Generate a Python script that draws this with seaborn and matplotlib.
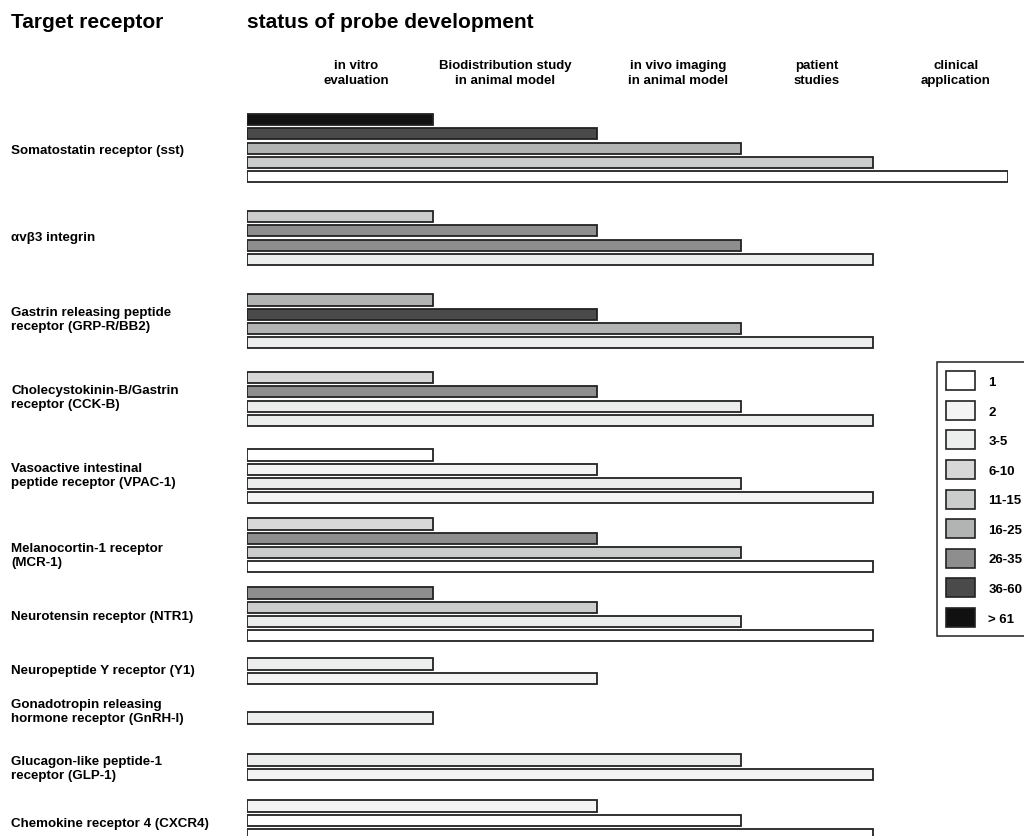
import numpy as np
import pandas as pd
import matplotlib
matplotlib.use("Agg")
import matplotlib.pyplot as plt
from matplotlib.patches import Patch
import seaborn as sns

# ---- data -------------------------------------------------------------
receptor_labels = [
    "Somatostatin receptor (sst)",
    "αvβ3 integrin",
    "Gastrin releasing peptide\nreceptor (GRP-R/BB2)",
    "Cholecystokinin-B/Gastrin\nreceptor (CCK-B)",
    "Vasoactive intestinal\npeptide receptor (VPAC-1)",
    "Melanocortin-1 receptor\n(MCR-1)",
    "Neurotensin receptor (NTR1)",
    "Neuropeptide Y receptor (Y1)",
    "Gonadotropin releasing\nhormone receptor (GnRH-I)",
    "Glucagon-like peptide-1\nreceptor (GLP-1)",
    "Chemokine receptor 4 (CXCR4)",
]

stage_labels = [
    "in vitro\nevaluation",
    "Biodistribution study\nin animal model",
    "in vivo imaging\nin animal model",
    "patient\nstudies",
    "clinical\napplication",
]

count_classes = ["1", "2", "3-5", "6-10", "11-15", "16-25", "26-35", "36-60", "> 61"]
class_colors = ["#ffffff", "#f4f4f4", "#eceeed", "#d7d7d7", "#cbcdcc",
                "#b2b4b3", "#8e8e8e", "#4a4a4a", "#111111"]

# development stage reached by each probe group (1 = in vitro ... 5 = clinical)
stages_reached = [
    [1, 2, 3, 4, 5],
    [1, 2, 3, 4],
    [1, 2, 3, 4],
    [1, 2, 3, 4],
    [1, 2, 3, 4],
    [1, 2, 3, 4],
    [1, 2, 3, 4],
    [1, 2],
    [1],
    [3, 4],
    [2, 3, 4],
]

# number of probes per stage (class of the count)
probe_counts = [
    ["> 61", "36-60", "16-25", "11-15", "1"],
    ["11-15", "26-35", "26-35", "3-5"],
    ["16-25", "36-60", "16-25", "3-5"],
    ["6-10", "26-35", "3-5", "3-5"],
    ["1", "2", "3-5", "2"],
    ["6-10", "26-35", "11-15", "1"],
    ["26-35", "11-15", "3-5", "1"],
    ["3-5", "2"],
    ["3-5"],
    ["3-5", "2"],
    ["2", "1", "1"],
]

# ---- layout (figure pixels) -------------------------------------------
W, H = 1024, 837
bar_left_px = 247
stage_end_px = [0, 186, 350, 494, 626, 761]          # offsets from bar_left_px
group_first_bar_px = [120.5, 217.5, 301, 378.5, 456, 525, 594, 665, 719, 761, 807]
label_y_px = [151, 238, 320, 398, 476, 556, 617, 671, 712, 769, 824]
header_x_px = [356, 505, 678, 817, 956]
bar_pitch = 14.3

rows = []
for g, (stg, cls) in enumerate(zip(stages_reached, probe_counts)):
    for i, (s, c) in enumerate(zip(stg, cls)):
        rows.append({"ypos": group_first_bar_px[g] + i * bar_pitch,
                     "stage": s, "count": c})
df = pd.DataFrame(rows)

sns.set_style("white")
plt.rcParams["font.family"] = ["Liberation Sans", "DejaVu Sans"]
plt.rcParams["font.weight"] = "bold"
plt.rcParams["text.color"] = "black"

fig = plt.figure(figsize=(W / 100, H / 100), dpi=100)
ax = fig.add_axes([bar_left_px / W, 0, stage_end_px[-1] / W, 1])

palette = dict(zip(count_classes, class_colors))
sns.barplot(data=df, x="stage", y="ypos", hue="count", hue_order=count_classes,
            palette=palette, orient="y", native_scale=True, dodge=False,
            width=0.78, edgecolor="#222222", linewidth=1.3, saturation=1,
            legend=False, ax=ax)

# piecewise stage axis: each stage column has its own width
stage_idx = np.arange(len(stage_end_px), dtype=float)
end_px = np.array(stage_end_px, dtype=float)


def fwd(s):
    return np.interp(s, stage_idx, end_px)


def inv(p):
    return np.interp(p, end_px, stage_idx)


ax.set_xscale("function", functions=(fwd, inv))
ax.set_xlim(0, 5)
ax.set_ylim(H, 0)
ax.axis("off")


def fx(px):
    return px / W


def fy(py):
    return 1 - py / H


fig.text(fx(11), fy(22), "Target receptor", fontsize=15, fontweight="bold",
         va="center", ha="left")
fig.text(fx(247), fy(22), "status of probe development", fontsize=15,
         fontweight="bold", va="center", ha="left")

for x, lab in zip(header_x_px, stage_labels):
    fig.text(fx(x), fy(73.5), lab, fontsize=9.5, fontweight="bold",
             ha="center", va="center", linespacing=1.32)

for y, lab in zip(label_y_px, receptor_labels):
    fig.text(fx(11), fy(y), lab, fontsize=9.6, fontweight="bold",
             ha="left", va="center", linespacing=1.3)

handles = [Patch(facecolor=c, edgecolor="#222222", linewidth=1.2, label=l)
           for l, c in zip(count_classes, class_colors)]
leg = fig.legend(handles=handles, loc="upper left",
                 bbox_to_anchor=(fx(937), fy(363)), bbox_transform=fig.transFigure,
                 frameon=True, fancybox=False, edgecolor="black",
                 prop={"size": 9.5, "weight": "bold"},
                 handlelength=2.2, handleheight=1.84, handletextpad=0.98,
                 labelspacing=0.8, borderpad=0.7, borderaxespad=0)
leg.get_frame().set_linewidth(1.2)

fig.savefig("out.png", dpi=100)
